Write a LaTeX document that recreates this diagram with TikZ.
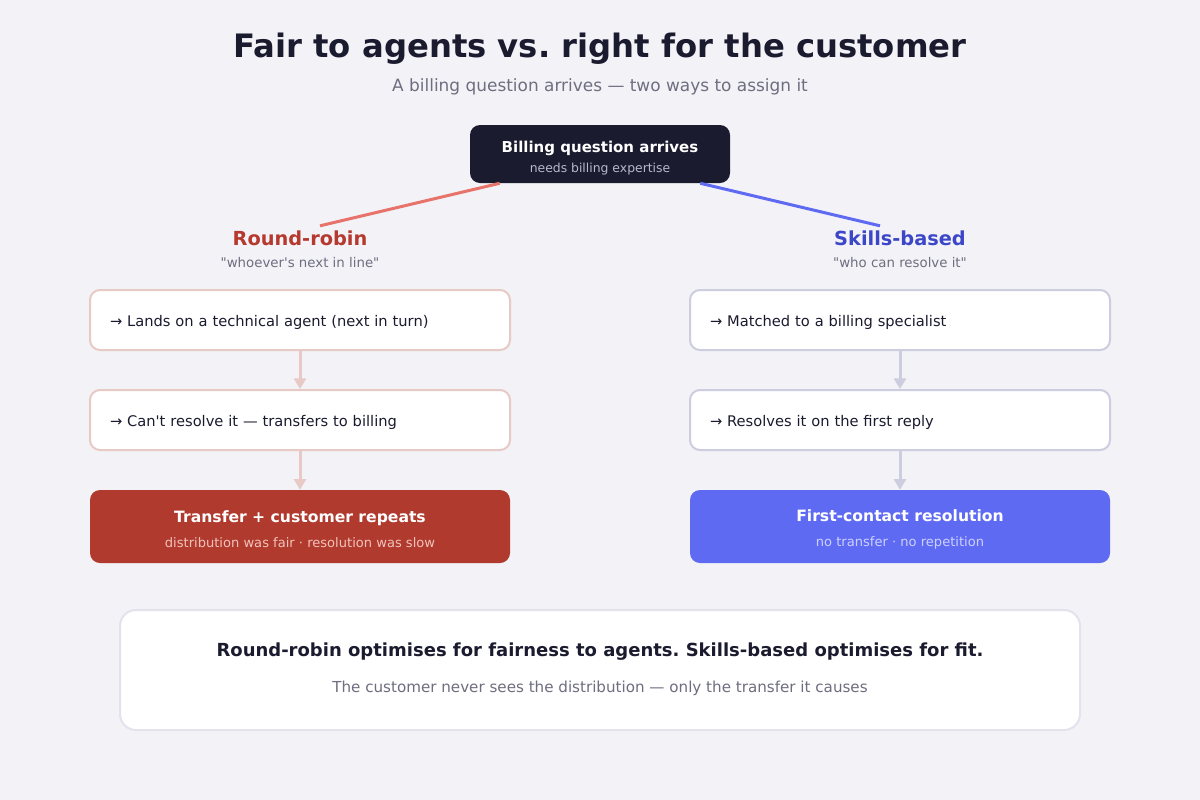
\documentclass[tikz,border=0pt]{standalone}
\usepackage{fontspec}
\setmainfont{DejaVu Sans}[Ligatures=TeXOff]
\setsansfont{DejaVu Sans}[Ligatures=TeXOff]
\usetikzlibrary{arrows.meta,calc}

\definecolor{pagebg}{HTML}{F3F2F7}
\definecolor{ink}{HTML}{1B1B2F}
\definecolor{muted}{HTML}{6E6E80}
\definecolor{rrline}{HTML}{E8736A}
\definecolor{rrtext}{HTML}{B5392E}
\definecolor{rrbox}{HTML}{B03A2E}
\definecolor{rredge}{HTML}{E7CAC5}
\definecolor{rrsub}{HTML}{F2C2BA}
\definecolor{sbline}{HTML}{5F6AF2}
\definecolor{sbtext}{HTML}{3C46C8}
\definecolor{sbbox}{HTML}{5F6AF2}
\definecolor{sbedge}{HTML}{CDCDE0}
\definecolor{sbsub}{HTML}{CCD0FF}
\definecolor{topsub}{HTML}{B8B8CC}
\definecolor{noteedge}{HTML}{E3E3EE}

\newcommand{\fs}[2]{\fontsize{#1}{#2}\selectfont}
\frenchspacing

\begin{document}
\begin{tikzpicture}[
    x=0.75pt,
    y=-0.75pt,
    font=\fs{11}{13},
    stepbox/.style={draw, line width=1.5pt, fill=white, rounded corners=7.5pt,
      minimum width=315pt, minimum height=45pt, text width=285pt,
      align=left, text=ink, inner sep=0pt},
    result/.style={rounded corners=7.5pt, minimum width=315pt,
      minimum height=54.75pt, align=center, text=white, inner sep=0pt,
      font=\fs{11.7}{18.5}},
    flow/.style={line width=2.25pt, -{Triangle[width=9pt,length=8pt]}},
    branch/.style={line width=2.25pt}
  ]
    % Fond et bornes
    \fill[pagebg] (0,0) rectangle (1200,800);
    \useasboundingbox (0,0) rectangle (1200,800);

    % Titre
    \node[font=\fs{24.2}{28}\bfseries, text=ink] (title) at (600,49)
      {Fair to agents vs. right for the customer};
    \node[font=\fs{12.7}{15}, text=muted] (subtitle) at (600,87)
      {A billing question arrives — two ways to assign it};

    % Question de départ
    \node[fill=ink, rounded corners=7.5pt, minimum width=195pt,
      minimum height=43.5pt, align=center, inner sep=0pt,
      font=\fs{11.25}{16}] (top) at (600,154)
      {\rule{0pt}{14.5pt}\textcolor{white}{\bfseries Billing question arrives}\\[-1pt]
       {\fs{9.3}{11}\color{topsub}needs billing expertise}};

    % --- Round-robin ---
    \node[font=\fs{14.5}{17}\bfseries, text=rrtext] (rr) at (300,238)
      {Round-robin};
    \node[font=\fs{10}{12}, text=muted] (rrq) at (300,263)
      {"whoever's next in line"};
    \node[stepbox, draw=rredge] (rr1) at (300,320)
      {\rule{0pt}{12pt}→ Lands on a technical agent (next in turn)};
    \node[stepbox, draw=rredge] (rr2) at (300,420)
      {\rule{0pt}{12pt}→ Can't resolve it — transfers to billing};
    \node[result, fill=rrbox] (rr3) at (300,526.5)
      {\rule{0pt}{13pt}\bfseries Transfer + customer repeats\\
       {\fs{9.8}{12}\color{rrsub}distribution was fair · resolution was slow}};

    % --- Skills-based ---
    \node[font=\fs{14.5}{17}\bfseries, text=sbtext] (sb) at (900,238)
      {Skills-based};
    \node[font=\fs{10}{12}, text=muted] (sbq) at (900,263)
      {"who can resolve it"};
    \node[stepbox, draw=sbedge] (sb1) at (900,320)
      {\rule{0pt}{12pt}→ Matched to a billing specialist};
    \node[stepbox, draw=sbedge] (sb2) at (900,420)
      {\rule{0pt}{12pt}→ Resolves it on the first reply};
    \node[result, fill=sbbox] (sb3) at (900,526.5)
      {\rule{0pt}{13pt}\bfseries First-contact resolution\\
       {\fs{9.8}{12}\color{sbsub}no transfer · no repetition}};

    % Liaisons
    \draw[branch, rrline] ($(top.south west)+(30,0)$) -- ($(rr.north)+(20,0)$);
    \draw[branch, sbline] ($(top.south east)+(-30,0)$) -- ($(sb.north)+(-20,0)$);
    \draw[flow, rredge] (rr1) -- (rr2);
    \draw[flow, rredge] (rr2) -- (rr3);
    \draw[flow, sbedge] (sb1) -- (sb2);
    \draw[flow, sbedge] (sb2) -- (sb3);

    % Conclusion
    \node[draw=noteedge, line width=1.5pt, fill=white, rounded corners=12pt,
      minimum width=720pt, minimum height=90pt, align=center,
      inner sep=0pt, font=\fs{13.5}{26.5}] (note) at (600,670)
      {\textcolor{ink}{\bfseries Round-robin optimises for fairness to agents. Skills-based optimises for fit.}\\
       {\fs{11.35}{14}\color{muted}The customer never sees the distribution — only the transfer it causes\rule[-3.5pt]{0pt}{0pt}}};
  \end{tikzpicture}
\end{document}
